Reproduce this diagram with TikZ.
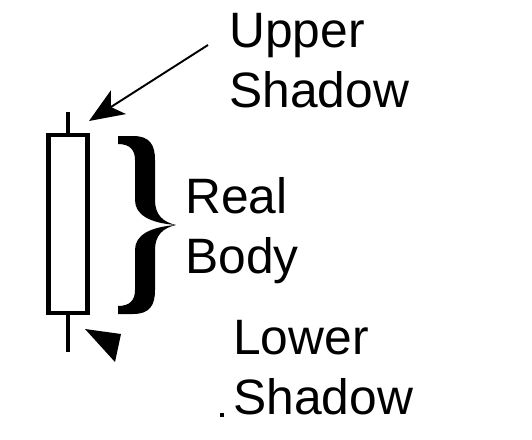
\documentclass[tikz,border=0pt]{standalone}
\usepackage{fontspec}
\setmainfont{Liberation Sans}
\usetikzlibrary{arrows.meta, positioning}

\begin{document}
\begin{tikzpicture}[x=0.02cm, y=-0.02cm,
    label/.style={anchor=north west, inner sep=0pt, align=left,
      font=\fontsize{28.3}{34}\selectfont},
    candle/.style={draw, line width=2.4pt, minimum width=0.78cm,
      minimum height=3.56cm, inner sep=0pt},
    wick/.style={line width=2.3pt},
    pointer/.style={line width=1.1pt,
      -{Stealth[length=19.8pt, width=15.9pt, inset=5pt]}}]
  \useasboundingbox (0,0) rectangle (532,440);
  % candle body and shadows
  \node[candle] (body) at (68,224) {};
  \coordinate (hightop) at (68,112);
  \coordinate (lowend) at (68,352);
  \draw[wick] (body.north) -- (hightop);
  \draw[wick] (body.south) -- (lowend);
  % labels
  \node[label] (upper) at (229,13) {Upper\\Shadow};
  \node[label] (real) at (185,177) {Real\\Body};
  \node[label] (lower) at (233,320) {Lower\\Shadow};
  % brace
  \fill (118,136) -- (133,136) .. controls (150,136) and (155,145) .. (155,160)
    -- (155,200) .. controls (155,215) and (163,222) .. (176,225)
    .. controls (163,228) and (155,235) .. (155,250)
    -- (155,290) .. controls (155,305) and (150,314) .. (133,314)
    -- (118,314) -- (118,306) .. controls (130,306) and (135,300) .. (135,290)
    -- (135,250) .. controls (135,235) and (150,227) .. (176,225)
    .. controls (150,223) and (135,215) .. (135,200)
    -- (135,160) .. controls (135,150) and (130,144) .. (118,144) -- cycle;
  % arrows
  \coordinate (upfrom) at (208,45);
  \coordinate (uptip) at (89,121);
  \draw[pointer] (upfrom) -- (uptip);
  \fill (85,329) -- (121,334) -- (115,362) -- cycle;
  \fill (220,413) rectangle (224,417);
\end{tikzpicture}
\end{document}
